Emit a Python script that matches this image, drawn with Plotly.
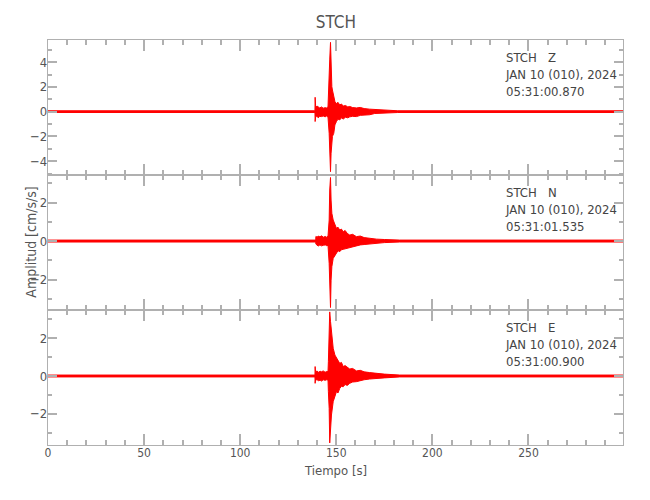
import plotly.graph_objects as go
from plotly.subplots import make_subplots

# ---- data (upper / lower envelope of each trace) ----
z_t  = [0, 138.9, 139.0, 139.3, 140.0, 140.6, 141.4, 142.3, 143.2, 144.2, 145.0, 145.7, 146.3, 146.6, 147.0, 147.3, 147.7, 148.0, 148.7,
        149.3, 150.1, 150.9, 151.8, 152.7, 153.6, 154.8, 156.0, 157.0, 158.5, 160.5, 162.5, 164.5, 167.4, 170.0, 174.0, 178.0, 182.0, 299.2]
z_up = [0.07, 0.07, 1.16, 0.35, 0.45, 0.4, 0.3, 0.38, 0.28, 0.32, 0.3, 0.4, 2.16, 4.18, 5.6, 3.1, 2.02, 1.75, 1.22,
        0.81, 0.65, 0.75, 0.54, 0.62, 0.45, 0.5, 0.38, 0.42, 0.33, 0.3, 0.34, 0.25, 0.2, 0.18, 0.12, 0.09, 0.07, 0.07]
z_lo = [-0.07, -0.07, -0.8, -0.4, -0.35, -0.5, -0.38, -0.4, -0.35, -0.42, -0.35, -0.45, -1.75, -3.1, -4.85, -3.36, -2.29, -2.0, -1.75,
        -1.07, -0.8, -0.6, -0.67, -0.5, -0.6, -0.45, -0.5, -0.42, -0.38, -0.4, -0.3, -0.28, -0.25, -0.15, -0.14, -0.1, -0.07, -0.07]

n_t  = [0, 139.3, 139.4, 140.0, 140.6, 141.5, 142.3, 143.3, 144.3, 145.0, 145.7, 146.3, 146.6, 147.0, 147.3, 147.7,
        148.4, 149.3, 150.1, 150.9, 151.8, 152.7, 153.6, 154.6, 155.7, 157.0, 158.5, 160.5, 162.5, 164.5, 167.4, 171.0, 175.0, 183.0, 299.2]
n_up = [0.05, 0.05, 0.24, 0.2, 0.26, 0.22, 0.27, 0.2, 0.24, 0.2, 0.25, 1.09, 2.65, 3.3, 2.13, 1.44,
        1.09, 0.83, 0.66, 0.72, 0.57, 0.62, 0.48, 0.55, 0.4, 0.31, 0.35, 0.23, 0.26, 0.18, 0.14, 0.1, 0.08, 0.05, 0.05]
n_lo = [-0.05, -0.05, -0.16, -0.22, -0.26, -0.2, -0.25, -0.22, -0.2, -0.24, -0.22, -1.16, -2.55, -3.45, -2.03, -1.33,
        -0.9, -0.73, -0.64, -0.5, -0.55, -0.45, -0.43, -0.4, -0.38, -0.35, -0.28, -0.22, -0.2, -0.18, -0.15, -0.1, -0.08, -0.05, -0.05]

e_t  = [0, 138.9, 139.0, 139.2, 140.0, 140.8, 141.6, 142.3, 143.2, 144.2, 145.0, 145.7, 145.9, 146.3, 146.6, 147.0, 147.5,
        148.4, 149.3, 150.1, 150.9, 151.8, 152.7, 153.6, 154.6, 155.7, 157.0, 158.5, 160.5, 162.5, 164.5, 167.4, 171.0, 175.0, 183.0, 299.2]
e_up = [0.05, 0.05, 0.5, 0.23, 0.26, 0.2, 0.25, 0.22, 0.27, 0.2, 0.24, 0.23, 0.76, 2.0, 3.4, 2.9, 2.35,
        1.47, 1.11, 0.94, 0.8, 0.67, 0.72, 0.5, 0.55, 0.45, 0.37, 0.4, 0.27, 0.3, 0.22, 0.18, 0.13, 0.1, 0.05, 0.05]
e_lo = [-0.05, -0.05, -0.39, -0.21, -0.2, -0.25, -0.22, -0.27, -0.2, -0.23, -0.2, -0.21, -0.83, -1.72, -3.55, -2.78, -2.07,
        -1.36, -1.01, -0.83, -0.9, -0.66, -0.55, -0.57, -0.45, -0.5, -0.39, -0.32, -0.3, -0.24, -0.2, -0.16, -0.12, -0.1, -0.05, -0.05]

y_ranges = [[-5.12, 5.79], [-3.58, 3.43], [-3.66, 3.50]]
x_range = [0, 299.2]
labels = [
    "STCH\u00a0\u00a0\u00a0Z<br>JAN 10 (010), 2024<br>05:31:00.870",
    "STCH\u00a0\u00a0\u00a0N<br>JAN 10 (010), 2024<br>05:31:01.535",
    "STCH\u00a0\u00a0\u00a0E<br>JAN 10 (010), 2024<br>05:31:00.900",
]

FONT = "Liberation Sans Narrow, DejaVu Sans Condensed, Arial Narrow, sans-serif"
TXT = "#555555"
FRAME = "#b0b0b0"
RED = "#ff0000"

fig = make_subplots(rows=3, cols=1, shared_xaxes=True, vertical_spacing=0)

series = [(z_t, z_up, z_lo), (n_t, n_up, n_lo), (e_t, e_up, e_lo)]
for i, (t, up, lo) in enumerate(series, start=1):
    fig.add_trace(go.Scatter(x=t, y=lo, mode="lines", line=dict(color=RED, width=1),
                             showlegend=False, hoverinfo="skip"), row=i, col=1)
    fig.add_trace(go.Scatter(x=t, y=up, mode="lines", line=dict(color=RED, width=1),
                             fill="tonexty", fillcolor=RED,
                             showlegend=False, hoverinfo="skip"), row=i, col=1)

for i in range(1, 4):
    fig.update_xaxes(range=x_range, tick0=0, dtick=50, ticks="inside", ticklen=11,
                     tickcolor=FRAME, tickwidth=1.5,
                     minor=dict(dtick=10, ticks="inside", ticklen=5, tickcolor=FRAME, tickwidth=1.5),
                     showline=True, linecolor=FRAME, linewidth=1.2, mirror="ticks",
                     showgrid=False, zeroline=False,
                     showticklabels=(i == 3), ticklabelstandoff=-4,
                     tickfont=dict(family=FONT, size=12, color=TXT),
                     row=i, col=1)
    fig.update_yaxes(range=y_ranges[i - 1], tick0=0, dtick=2, ticks="inside", ticklen=9,
                     tickcolor=FRAME, tickwidth=1.5,
                     minor=dict(dtick=1, ticks="inside", ticklen=4, tickcolor=FRAME, tickwidth=1.5),
                     showline=True, linecolor=FRAME, linewidth=1.2, mirror="ticks",
                     showgrid=False, zeroline=False, ticklabelstandoff=-3,
                     tickfont=dict(family=FONT, size=13, color=TXT),
                     row=i, col=1)
    yref = "y domain" if i == 1 else f"y{i} domain"
    fig.add_annotation(text=labels[i - 1], xref="paper", x=0.792, xanchor="left",
                       yref=yref, y=0.94, yanchor="top", showarrow=False, align="left",
                       font=dict(family=FONT, size=13, color="#444444"))

fig.add_annotation(text="Tiempo [s]", xref="paper", x=0.5, yref="paper", y=-0.062,
                   yanchor="middle", showarrow=False,
                   font=dict(family=FONT, size=13, color=TXT))
fig.add_annotation(text="Amplitud [cm/s/s]", xref="paper", x=-0.031, xanchor="center",
                   yref="paper", y=0.5, yanchor="middle", textangle=-90, showarrow=False,
                   font=dict(family=FONT, size=14, color=TXT))

fig.update_layout(
    width=650, height=500,
    margin=dict(l=48, r=27, t=40, b=55),
    paper_bgcolor="white", plot_bgcolor="white",
    title=dict(text="STCH", x=0.5168, xanchor="center", y=1 - 22 / 500, yanchor="middle",
               font=dict(family=FONT, size=17, color=TXT)),
)

fig.write_html("out.html", config={"displayModeBar": False},
               post_script="document.body.style.margin='0px';")
